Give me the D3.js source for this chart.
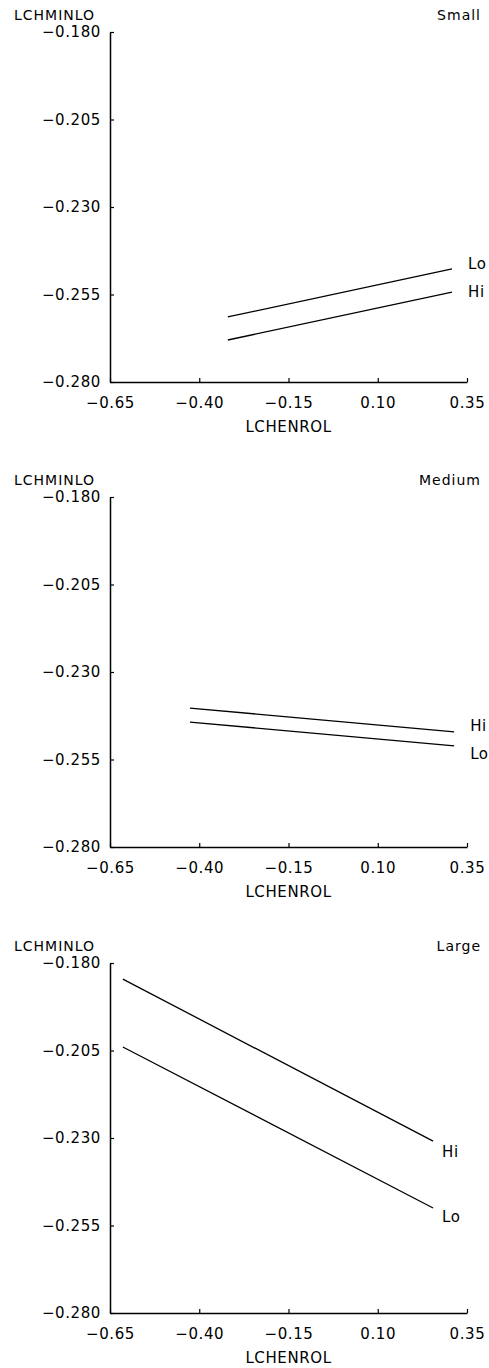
<!DOCTYPE html>
<html>
<head>
<meta charset="utf-8">
<script src="https://cdn.jsdelivr.net/npm/d3@7"></script>
<style>
  body { margin: 0; background: #fff; }
  svg text { font-family: "DejaVu Sans", sans-serif; font-size: 15px; letter-spacing: 0.6px; fill: #000; }
  svg text.title { font-size: 14px; letter-spacing: 1px; }
</style>
</head>
<body>
<div id="chart"></div>
<script>
// panel names and series
var panels = ["Small", "Medium", "Large"];
var seriesNames = ["Lo", "Hi"];

// x range of each fitted line (LCHENROL)
var xStart = [-0.320, -0.426, -0.614];
var xEnd = [0.308, 0.314, 0.255];

// LCHMINLO at the line ends
var loStart = [-0.2614, -0.2443, -0.2040];
var loEnd = [-0.2477, -0.2511, -0.2500];
var hiStart = [-0.2680, -0.2403, -0.1846];
var hiEnd = [-0.2543, -0.2471, -0.2309];

var xTicks = [-0.65, -0.40, -0.15, 0.10, 0.35];
var yTicks = [-0.180, -0.205, -0.230, -0.255, -0.280];

// layout
var W = 489, H = 1368;
var panelTop = [32, 497, 963];
var plotH = 350;
var x0 = 110, x1 = 467;
var labelDx = [16, 16, 9];
var labelDy = { Lo: [-5, 8, 9], Hi: [0, -6, 11] };

var svg = d3.select("#chart").append("svg")
  .attr("width", W)
  .attr("height", H);

var x = d3.scaleLinear().domain([-0.65, 0.35]).range([x0, x1]);

panels.forEach(function (name, i) {
  var top = panelTop[i];
  var y = d3.scaleLinear().domain([-0.280, -0.180]).range([top + plotH, top]);
  var g = svg.append("g");

  // y axis
  var ya = g.append("g")
    .attr("transform", "translate(" + x0 + ",0)")
    .call(d3.axisLeft(y).tickValues(yTicks).tickFormat(d3.format(".3f"))
      .tickSizeInner(-4).tickSizeOuter(0).tickPadding(9));

  // x axis
  var xa = g.append("g")
    .attr("transform", "translate(0," + (top + plotH) + ")")
    .call(d3.axisBottom(x).tickValues(xTicks).tickFormat(d3.format(".2f"))
      .tickSizeInner(-4).tickSizeOuter(0).tickPadding(15));

  [ya, xa].forEach(function (a) {
    a.attr("font-family", null).attr("font-size", null);
    a.select(".domain").attr("stroke", "#000").attr("stroke-width", 1.5);
    a.selectAll(".tick line").attr("stroke", "#000").attr("stroke-width", 1.2);
  });

  // titles
  g.append("text")
    .attr("class", "title")
    .attr("x", 14)
    .attr("y", top - 12)
    .text("LCHMINLO");

  g.append("text")
    .attr("class", "title")
    .attr("x", 481)
    .attr("y", top - 12)
    .attr("text-anchor", "end")
    .text(name);

  g.append("text")
    .attr("x", x(-0.15))
    .attr("y", top + plotH + 50)
    .attr("text-anchor", "middle")
    .text("LCHENROL");

  // fitted lines
  var lines = [
    { s: "Lo", a: [xStart[i], loStart[i]], b: [xEnd[i], loEnd[i]] },
    { s: "Hi", a: [xStart[i], hiStart[i]], b: [xEnd[i], hiEnd[i]] }
  ];

  g.selectAll(".fit")
    .data(lines)
    .enter()
    .append("line")
    .attr("class", "fit")
    .attr("x1", function (d) { return x(d.a[0]); })
    .attr("y1", function (d) { return y(d.a[1]); })
    .attr("x2", function (d) { return x(d.b[0]); })
    .attr("y2", function (d) { return y(d.b[1]); })
    .attr("stroke", "#000")
    .attr("stroke-width", 1.3);

  g.selectAll(".lab")
    .data(lines)
    .enter()
    .append("text")
    .attr("class", "lab")
    .attr("x", function (d) { return x(d.b[0]) + labelDx[i]; })
    .attr("y", function (d) { return y(d.b[1]) + labelDy[d.s][i]; })
    .attr("dy", "0.35em")
    .text(function (d) { return d.s; });
});
</script>
</body>
</html>
